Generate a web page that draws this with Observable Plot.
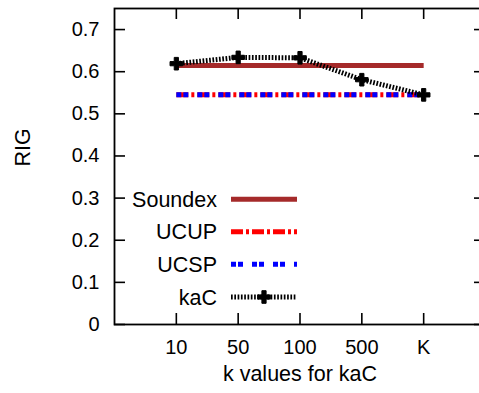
<!DOCTYPE html>
<html>
<head>
<meta charset="utf-8">
<script src="https://cdn.jsdelivr.net/npm/d3@7"></script>
<script src="https://cdn.jsdelivr.net/npm/@observablehq/plot@0.6"></script>
<style>
  body { margin: 0; background: #fff; }
  #wrap { width: 479px; height: 393px; overflow: hidden; }
  svg { font-family: "Liberation Sans", Arial, sans-serif; max-width: none !important; }
</style>
</head>
<body>
<div id="wrap"></div>
<script>
// ---- data ----
const kLabels = ["10", "50", "100", "500", "K"];
const kaC = [0.619, 0.634, 0.633, 0.581, 0.545];
const soundex = [0.615, 0.615, 0.615, 0.615, 0.615];
const ucup = [0.545, 0.545, 0.545, 0.545, 0.545];
const ucsp = [0.545, 0.545, 0.545, 0.545, 0.545];
const yTicks = [0, 0.1, 0.2, 0.3, 0.4, 0.5, 0.6, 0.7];
const seriesNames = ["Soundex", "UCUP", "UCSP", "kaC"];

const idx = kLabels.map((_, i) => i);
const mk = (vals) => vals.map((v, i) => ({x: i, y: v}));

const W = 486, H = 393, mL = 114, mR = 1, mT = 8, mB = 69;
const plotW = W - mL - mR, plotH = H - mT - mB;
const tickLen = 11;
const labelSize = 21.5;

const styles = {
  Soundex: {stroke: "#a52a2a", strokeWidth: 5, strokeDasharray: null},
  UCUP: {stroke: "#ff0000", strokeWidth: 5, strokeDasharray: "12,3,3,3"},
  UCSP: {stroke: "#0000ff", strokeWidth: 5, strokeDasharray: "5,2,5,9"},
  kaC: {stroke: "#000000", strokeWidth: 5, strokeDasharray: "1.7,1.6"}
};

const plot = Plot.plot({
  width: W, height: H,
  marginLeft: mL, marginRight: mR, marginTop: mT, marginBottom: mB,
  style: {fontSize: "20px", fontFamily: "Liberation Sans, Arial, sans-serif", color: "#000", background: "#fff", maxWidth: "none"},
  x: {domain: [-1, 5]},
  y: {domain: [0, 0.75]},
  marks: [
    Plot.axisY(yTicks, {tickSize: 0, tickPadding: 15, tickFormat: d => d === 0 ? "0" : d3.format(".1f")(d), label: null, fontSize: 20}),
    Plot.axisX(idx, {tickSize: 0, tickPadding: 15, tickFormat: i => kLabels[i], label: null, fontSize: 20}),
    // inward ticks
    Plot.tickX(idx, {x: d => d, insetTop: plotH - tickLen, stroke: "#000", strokeWidth: 1.6}),
    Plot.tickX(idx, {x: d => d, insetBottom: plotH - tickLen, stroke: "#000", strokeWidth: 1.6}),
    Plot.tickY(yTicks, {y: d => d, insetRight: plotW - tickLen, stroke: "#000", strokeWidth: 1.6}),
    Plot.tickY(yTicks, {y: d => d, insetLeft: plotW - tickLen, stroke: "#000", strokeWidth: 1.6}),
    Plot.lineY(mk(soundex), {x: "x", y: "y", ...styles.Soundex, strokeLinecap: "butt"}),
    Plot.lineY(mk(ucup), {x: "x", y: "y", ...styles.UCUP, strokeLinecap: "butt"}),
    Plot.lineY(mk(ucsp), {x: "x", y: "y", ...styles.UCSP, strokeLinecap: "butt"}),
    Plot.lineY(mk(kaC), {x: "x", y: "y", ...styles.kaC, strokeLinecap: "butt"}),
    Plot.dot(mk(kaC), {x: "x", y: "y", symbol: "cross", r: 5.3, fill: "#000", stroke: "#000", strokeWidth: 1}),
    Plot.frame({stroke: "#000", strokeWidth: 1.8}),
    Plot.text(["RIG"], {frameAnchor: "left", dx: -91, rotate: -90, fontSize: labelSize, fill: "#000"}),
    Plot.text(["k values for kaC"], {frameAnchor: "bottom", dy: 56, fontSize: labelSize, fill: "#000"})
  ]
});
plot.style.maxWidth = "none";

// legend (inside plot area)
const svg = d3.select(plot);
const rowY = [199.3, 231.7, 264.3, 297];
const g = svg.append("g");
seriesNames.forEach((name, i) => {
  const s = styles[name];
  g.append("text")
    .attr("x", 217).attr("y", rowY[i]).attr("dy", "0.35em")
    .attr("text-anchor", "end").attr("font-size", labelSize).attr("fill", "#000")
    .text(name);
  const ln = g.append("line")
    .attr("x1", 231).attr("x2", 297).attr("y1", rowY[i]).attr("y2", rowY[i])
    .attr("stroke", s.stroke).attr("stroke-width", s.strokeWidth);
  if (s.strokeDasharray) ln.attr("stroke-dasharray", s.strokeDasharray);
  if (name === "kaC") {
    g.append("path")
      .attr("transform", `translate(264,${rowY[i]})`)
      .attr("d", d3.symbol(d3.symbolCross, Math.PI * 5.3 * 5.3)())
      .attr("fill", "#000").attr("stroke", "#000").attr("stroke-width", 1);
  }
});

document.getElementById("wrap").appendChild(plot);
</script>
</body>
</html>
